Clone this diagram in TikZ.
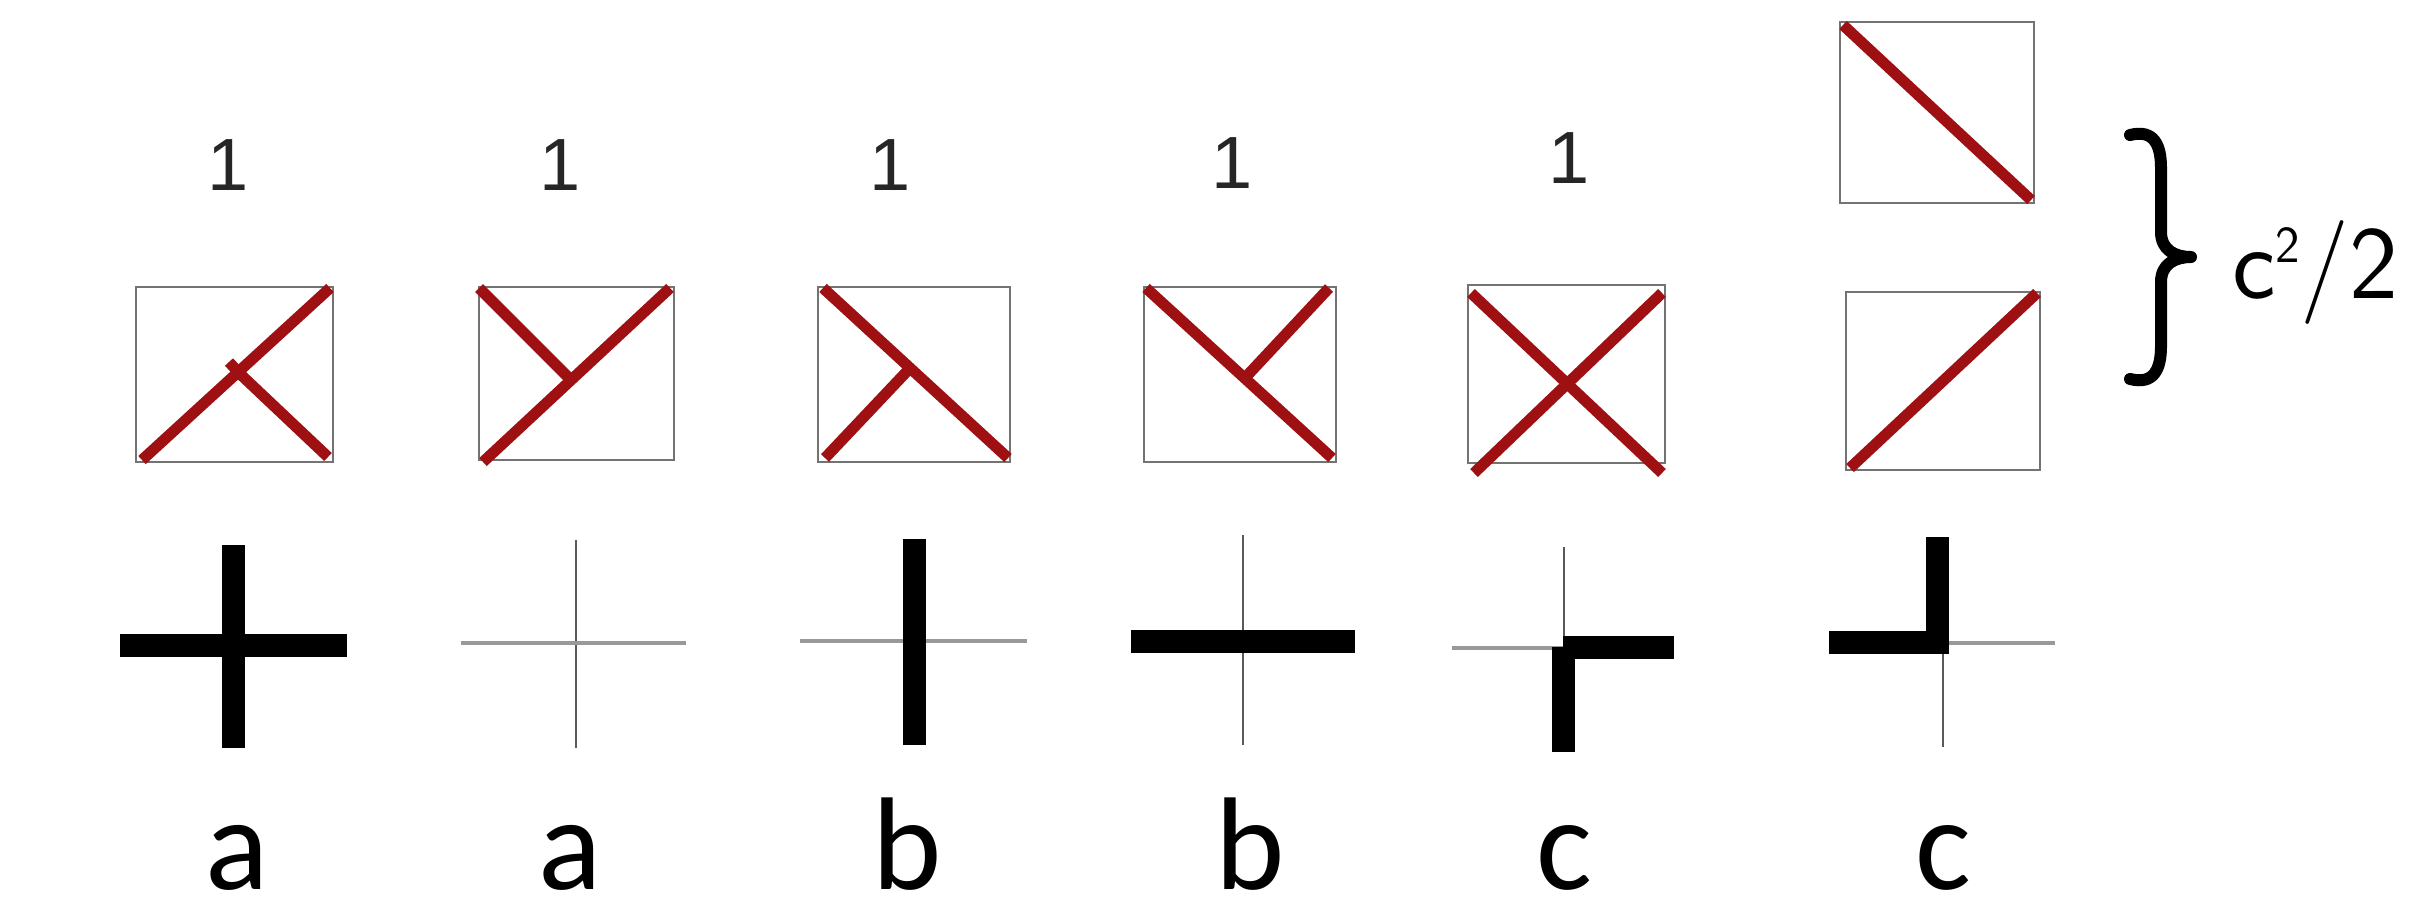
\documentclass[tikz,border=0pt]{standalone}
\usepackage{fontspec}
\newfontfamily\carlito{Carlito}
\newfontfamily\libsans{Liberation Sans}
\definecolor{redline}{RGB}{158,16,18}
\begin{document}
\begin{tikzpicture}[x=0.5pt,y=-0.5pt,
  boxst/.style={draw=black!55, line width=1pt},
  redst/.style={draw=redline, line width=5.5pt, line cap=butt},
  barthick/.style={draw=black, line width=11.5pt, line cap=butt, line join=miter},
  barthinv/.style={draw=black!65, line width=1pt},
  barthinh/.style={draw=black!40, line width=1.6pt},
  onelab/.style={font=\libsans\fontsize{37}{40}\selectfont, text=black!85, inner sep=0pt, anchor=base},
  letlab/.style={font=\carlito\fontsize{66}{70}\selectfont, text=black, inner sep=0pt, anchor=base},
  bracest/.style={draw=black, line width=6pt, line cap=round, line join=round},
]
\path[fill=white] (0,0) rectangle (2414,901);
\useasboundingbox (0,0) rectangle (2414,901);

% labels "1"
\node[onelab] (one1) at (228,190) {1};
\node[onelab] (one2) at (560,190) {1};
\node[onelab] (one3) at (890,190) {1};
\node[onelab] (one4) at (1232,188) {1};
\node[onelab] (one5) at (1569,183) {1};

% boxes
\draw[boxst] (136,287) rectangle (333,462);
\draw[boxst] (479,287) rectangle (674,460);
\draw[boxst] (818,287) rectangle (1010,462);
\draw[boxst] (1144,287) rectangle (1336,462);
\draw[boxst] (1468,285) rectangle (1665,463);
\draw[boxst] (1840,22) rectangle (2034,203);
\draw[boxst] (1846,292) rectangle (2040,470);

% red lines
\draw[redst] (142,460) -- (330,288);
\draw[redst] (238,372) -- (328,457);
\draw[redst] (240,374) -- (229,362);

\draw[redst] (483,462) -- (670,288);
\draw[redst] (479,288) -- (573,382);

\draw[redst] (823,288) -- (1008,458);
\draw[redst] (825,458) -- (912,366);

\draw[redst] (1146,288) -- (1332,458);
\draw[redst] (1329,288) -- (1243,380);

\draw[redst] (1471,293) -- (1662,473);
\draw[redst] (1662,293) -- (1474,473);

\draw[redst] (1843,25) -- (2031,200);
\draw[redst] (1850,468) -- (2037,293);

% brace and c^2/2
\draw[bracest] (2130,135) .. controls (2154,129) and (2161,145) .. (2161,168)
  -- (2161,232) .. controls (2161,250) and (2175,257) .. (2191,257)
  .. controls (2175,257) and (2161,264) .. (2161,282)
  -- (2161,346) .. controls (2161,369) and (2154,385) .. (2130,379);
\node[inner sep=0pt, anchor=base west, font=\sffamily\fontsize{52}{56}\selectfont] (csq) at (2232,298)
  {c\raisebox{18pt}{\fontsize{26}{28}\selectfont 2}/2};

% crosses
\draw[barthick] (233,545) -- (233,748);
\draw[barthick] (120,645) -- (347,645);

\draw[barthinv] (576,540) -- (576,748);
\draw[barthinh] (461,643) -- (686,643);

\draw[barthinh] (800,641) -- (1027,641);
\draw[barthick] (914,539) -- (914,745);

\draw[barthinv] (1243,535) -- (1243,745);
\draw[barthick] (1131,641) -- (1355,641);

\draw[barthinv] (1564,547) -- (1564,647);
\draw[barthinh] (1452,648) -- (1564,648);
\draw[barthick] (1563,647) -- (1674,647);
\draw[barthick] (1563,647) -- (1563,752);

\draw[barthinh] (1949,643) -- (2055,643);
\draw[barthinv] (1943,654) -- (1943,747);
\draw[barthick] (1829,642) -- (1937,642) -- (1937,537);

% letters
\node[letlab] (la1) at (237,889) {a};
\node[letlab] (la2) at (570,889) {a};
\node[letlab] (lb1) at (907,889) {b};
\node[letlab] (lb2) at (1250,889) {b};
\node[letlab] (lc1) at (1564,889) {c};
\node[letlab] (lc2) at (1943,889) {c};
\end{tikzpicture}
\end{document}
